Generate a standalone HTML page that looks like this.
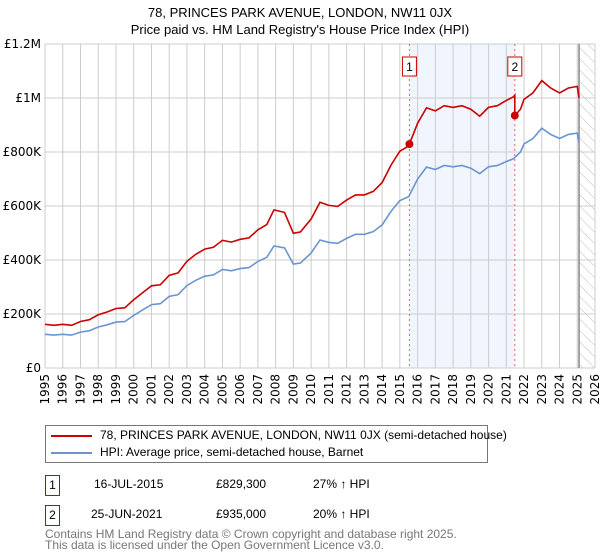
<!DOCTYPE html>
<html><head><meta charset="utf-8"><style>
body{margin:0;background:#fff;font-family:"Liberation Sans","DejaVu Sans",sans-serif;}
#wrap{position:relative;width:600px;height:560px;overflow:hidden;}
.t{position:absolute;font-size:12px;color:#000;white-space:nowrap;}
.box{position:absolute;border:1px solid #c00;width:13px;height:19px;text-align:center;line-height:19px;font-size:12px;}
</style></head><body><div id="wrap">
<div class="t" style="left:0;width:600px;text-align:center;top:4px;font-size:13px;line-height:17px;">78, PRINCES PARK AVENUE, LONDON, NW11 0JX<br>Price paid vs. HM Land Registry's House Price Index (HPI)</div>
<svg id="chart" width="600" height="425" style="position:absolute;left:0;top:0"></svg>
<div style="position:absolute;left:45px;top:425px;width:441px;height:36px;border:1px solid #777;">
<div><div style="position:absolute;left:5px;top:9px;width:41px;height:2px;background:#c00"></div><div class="t" style="left:54px;top:2px">78, PRINCES PARK AVENUE, LONDON, NW11 0JX (semi-detached house)</div></div>
<div><div style="position:absolute;left:5px;top:26px;width:41px;height:2px;background:#6a95d0"></div><div class="t" style="left:54px;top:19px">HPI: Average price, semi-detached house, Barnet</div></div>
</div>
<div>
<div class="box" style="left:45px;top:475px">1</div>
<div class="t" style="left:94px;top:477px">16-JUL-2015</div><div class="t" style="left:216px;top:477px">£829,300</div><div class="t" style="left:313px;top:477px">27% ↑ HPI</div></div>
<div>
<div class="box" style="left:45px;top:505px">2</div>
<div class="t" style="left:91px;top:507px">25-JUN-2021</div><div class="t" style="left:216px;top:507px">£935,000</div><div class="t" style="left:313px;top:507px">20% ↑ HPI</div></div>
<div class="t" style="left:45px;top:529px;color:#777;line-height:11px;font-size:12px">Contains HM Land Registry data © Crown copyright and database right 2025.<br>This data is licensed under the Open Government Licence v3.0.</div>
</div>
<script>
const hpiYears=[1995,1995.5,1996,1996.5,1997,1997.5,1998,1998.5,1999,1999.5,2000,2000.5,2001,2001.5,2002,2002.5,2003,2003.5,2004,2004.5,2005,2005.5,2006,2006.5,2007,2007.5,2007.9,2008.5,2009,2009.4,2010,2010.5,2011,2011.5,2012,2012.5,2013,2013.5,2014,2014.5,2015,2015.5,2016,2016.5,2017,2017.5,2018,2018.5,2019,2019.5,2020,2020.5,2021,2021.4,2021.8,2022,2022.5,2023,2023.5,2024,2024.5,2025,2025.1];
const hpiValues=[125,122,125,122,133,138,152,160,170,172,195,215,235,238,265,272,305,325,340,345,365,360,368,372,395,410,452,445,385,389,426,474,465,462,480,495,495,505,530,580,620,635,700,744,735,750,745,750,740,720,745,750,765,775,800,830,850,888,865,850,865,870,835];
const saleYears=[2015.54,2021.48];
const salePrices=[829.3,935];
const yTicks=[0,200,400,600,800,1000,1200];
const yTickLabels=["£0","£200K","£400K","£600K","£800K","£1M","£1.2M"];
const xTicks=[1995,1996,1997,1998,1999,2000,2001,2002,2003,2004,2005,2006,2007,2008,2009,2010,2011,2012,2013,2014,2015,2016,2017,2018,2019,2020,2021,2022,2023,2024,2025,2026];
const NS="http://www.w3.org/2000/svg",svg=document.getElementById('chart');
const X0=45,X1=595,Y0=368,Y1=44;
const xs=y=>X0+(y-1995)/(2026-1995)*(X1-X0);
const ys=v=>Y0-v/1200*(Y0-Y1);
function mk(t,a,p){const e=document.createElementNS(NS,t);for(const k in a)e.setAttribute(k,a[k]);(p||svg).appendChild(e);return e;}
function hpiAt(y){for(let i=1;i<hpiYears.length;i++){if(y<=hpiYears[i]){const f=(y-hpiYears[i-1])/(hpiYears[i]-hpiYears[i-1]);return hpiValues[i-1]+f*(hpiValues[i]-hpiValues[i-1]);}}return hpiValues[hpiValues.length-1];}
const shade=mk('rect',{x:xs(saleYears[0]),y:Y1,width:xs(saleYears[1])-xs(saleYears[0]),height:Y0-Y1,fill:'#eef3fc',opacity:0.8});


const defs=mk('defs',{});
const pat=mk('pattern',{id:'hatch',width:8,height:8,patternUnits:'userSpaceOnUse',patternTransform:'rotate(-45)'},defs);
mk('line',{x1:0,y1:0,x2:0,y2:8,stroke:'#bbb','stroke-width':1},pat);
const hatch=mk('rect',{x:xs(2025.1),y:Y1,width:X1-xs(2025.1),height:Y0-Y1,fill:'url(#hatch)'});


xTicks.forEach((t,i)=>{const x=xs(t);
const g=mk('line',{x1:x,x2:x,y1:Y1,y2:Y0,stroke:'#ccc'});


const lb=mk('text',{x:0,y:0,transform:`translate(${x+4},${Y0+6}) rotate(-90)`,'text-anchor':'end','font-size':12,'font-family':'DejaVu Sans, sans-serif'});
lb.textContent=t;

});
yTicks.forEach((t,i)=>{const y=ys(t);
const g=mk('line',{x1:X0,x2:X1,y1:y,y2:y,stroke:'#ccc'});


const lb=mk('text',{x:X0-4,y:y+4,'text-anchor':'end','font-size':12,'font-family':'DejaVu Sans, sans-serif'});
lb.textContent=yTickLabels[i];

});
const cut=mk('line',{x1:xs(2025.1),x2:xs(2025.1),y1:Y1,y2:Y0,stroke:'#888','stroke-width':1.5});


saleYears.forEach((s,i)=>{const x=xs(s);
const l=mk('line',{x1:x,x2:x,y1:Y1,y2:Y0,stroke:'#f06060','stroke-dasharray':'2,3'});


const r=mk('rect',{x:x-7,y:57,width:14,height:19,fill:'#fff',stroke:'#c00'});


const tx=mk('text',{x:x,y:71,'text-anchor':'middle','font-size':12});tx.textContent=String(i+1);

});
const f1=salePrices[0]/hpiAt(saleYears[0]),f2=salePrices[1]/hpiAt(saleYears[1]);
let bp='',rp='';
hpiYears.forEach((y,i)=>{bp+=(i?'L':'M')+xs(y).toFixed(1)+','+ys(hpiValues[i]).toFixed(1);
const f=y<saleYears[1]?f1:f2;rp+=(i?'L':'M')+xs(y).toFixed(1)+','+ys(hpiValues[i]*f).toFixed(1);
if(i<hpiYears.length-1&&y<saleYears[1]&&hpiYears[i+1]>saleYears[1]){rp+='L'+xs(saleYears[1]).toFixed(1)+','+ys(hpiAt(saleYears[1])*f1).toFixed(1)+'L'+xs(saleYears[1]).toFixed(1)+','+ys(salePrices[1]).toFixed(1);}});
const bl=mk('path',{d:bp,fill:'none',stroke:'#6a95d0','stroke-width':1.6});


const rl=mk('path',{d:rp,fill:'none',stroke:'#c00','stroke-width':1.6});


saleYears.forEach((s,i)=>{const c=mk('circle',{cx:xs(s),cy:ys(salePrices[i]),r:4,fill:'#c00'});

});
</script></body></html>
